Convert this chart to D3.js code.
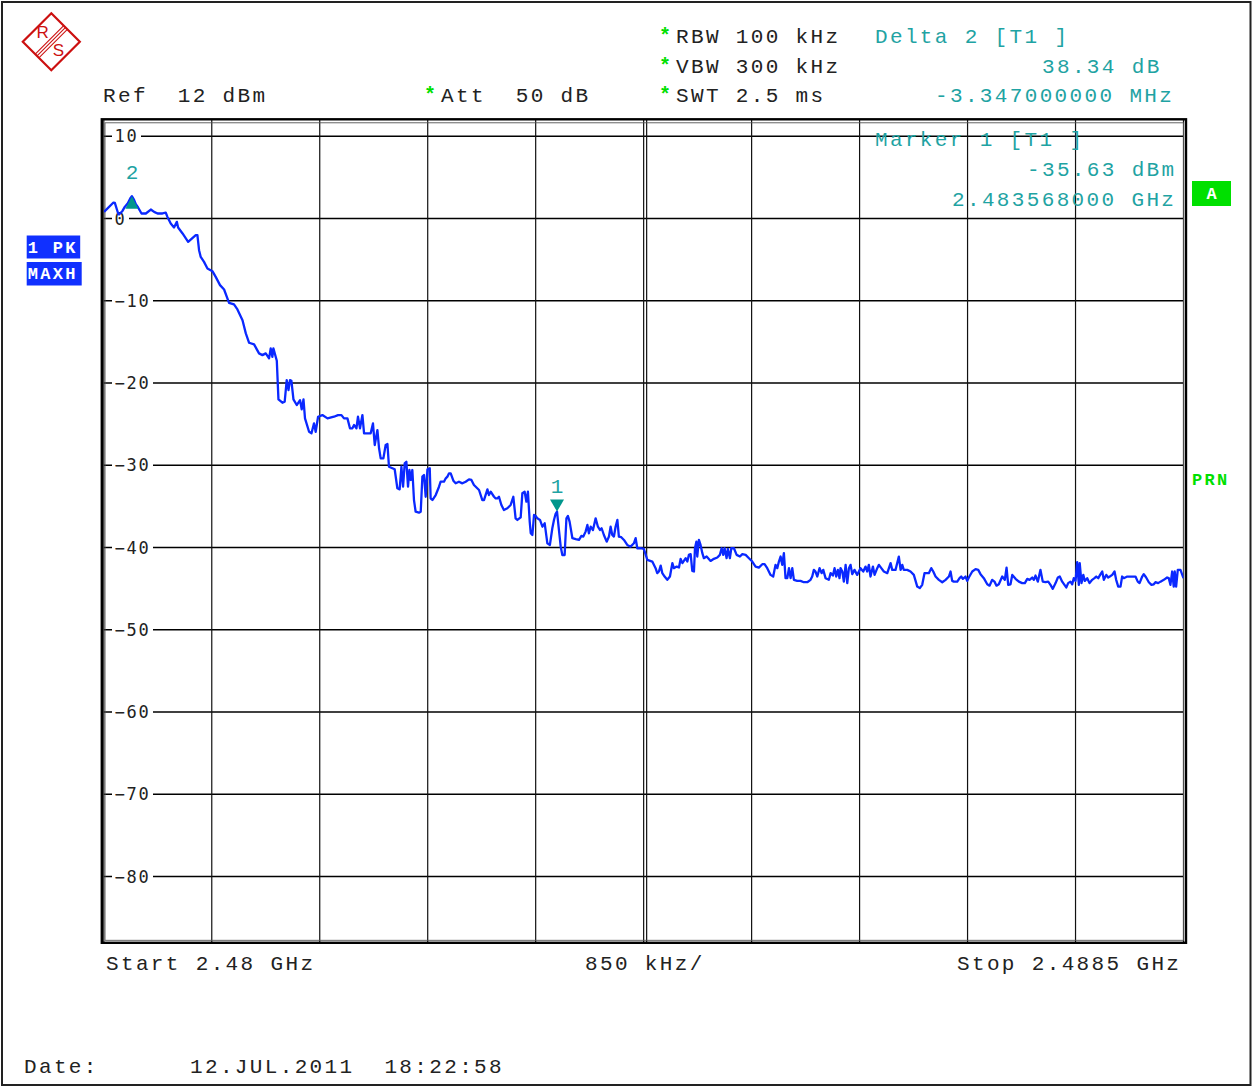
<!DOCTYPE html>
<html>
<head>
<meta charset="utf-8">
<script src="https://cdn.jsdelivr.net/npm/d3@7"></script>
<style>
  html, body { margin: 0; padding: 0; background: #fff; }
  svg { display: block; }
</style>
</head>
<body>
<svg id="chart" width="1253" height="1088"></svg>
<script>
// ---- Sweep settings -------------------------------------------------------
const startGHz = 2.48;
const stopGHz = 2.4885;
const spanKHz = 8500;
const refLevelDbm = 12;
const displayRangeDb = 100;

// grid: level lines (dBm) and frequency divisions (kHz from start)
const levelTicks = [10, 0, -10, -20, -30, -40, -50, -60, -70, -80];
const freqDivsKHz = [0, 850, 1700, 2550, 3400, 4250, 5100, 5950, 6800, 7650, 8500];

// instrument settings shown in the header
const settingNames = ["RBW", "VBW", "SWT"];
const settingValues = ["100 kHz", "300 kHz", "2.5 ms"];

// markers
const marker1 = { freqGHz: 2.483568, levelDbm: -35.63 };
const delta2 = { offsetMHz: -3.347, deltaDb: 38.34 };

// ---- Trace 1 (max hold, peak detector): frequency offset (kHz) / level (dBm)
const traceFreqKHz = [
  2, 76, 87, 113, 120, 147, 165, 189, 209, 221, 236, 252, 270, 297, 331, 370, 396, 423, 462, 488,
  501, 527, 553, 575, 585, 620, 664, 724, 737, 750, 763, 789, 816, 855, 881, 915, 947, 986, 1025, 1052,
  1092, 1118, 1144, 1183, 1222, 1249, 1275, 1301, 1314, 1327, 1335, 1362, 1375, 1406, 1424, 1440, 1454, 1466, 1477, 1493,
  1519, 1545, 1558, 1572, 1584, 1616, 1635, 1655, 1668, 1687, 1721, 1761, 1812, 1844, 1871, 1891, 1918, 1938, 1957, 1970,
  1989, 2001, 2017, 2036, 2049, 2075, 2101, 2119, 2133, 2154, 2167, 2180, 2201, 2219, 2233, 2245, 2272, 2290, 2311, 2329,
  2343, 2356, 2369, 2382, 2395, 2406, 2416, 2429, 2442, 2455, 2481, 2495, 2508, 2521, 2534, 2548, 2566, 2573, 2587, 2613,
  2639, 2652, 2678, 2692, 2705, 2718, 2731, 2752, 2770, 2796, 2823, 2849, 2875, 2894, 2914, 2954, 2980, 2993, 3020, 3032,
  3046, 3072, 3085, 3098, 3111, 3130, 3150, 3177, 3203, 3224, 3242, 3256, 3282, 3295, 3313, 3327, 3339, 3353, 3361, 3374,
  3387, 3400, 3413, 3434, 3453, 3471, 3492, 3512, 3531, 3544, 3557, 3568, 3583, 3597, 3610, 3628, 3642, 3654, 3667, 3689,
  3715, 3741, 3760, 3775, 3793, 3807, 3819, 3833, 3851, 3872, 3890, 3906, 3919, 3937, 3959, 3977, 3990, 4003, 4016, 4029,
  4043, 4055, 4074, 4095, 4121, 4147, 4173, 4187, 4200, 4226, 4252, 4279, 4318, 4344, 4357, 4370, 4384, 4397, 4415, 4436,
  4457, 4476, 4488, 4510, 4528, 4541, 4555, 4581, 4594, 4606, 4620, 4633, 4646, 4654, 4665, 4672, 4685, 4698, 4712, 4724,
  4746, 4777, 4803, 4830, 4850, 4864, 4877, 4887, 4903, 4913, 4929, 4940, 4961, 4982, 5008, 5027, 5053, 5079, 5105, 5131,
  5157, 5184, 5202, 5223, 5249, 5270, 5288, 5302, 5315, 5328, 5341, 5354, 5367, 5381, 5394, 5407, 5420, 5433, 5459, 5485,
  5511, 5538, 5564, 5577, 5590, 5603, 5617, 5635, 5651, 5664, 5682, 5708, 5722, 5740, 5753, 5766, 5779, 5792, 5800, 5814,
  5826, 5840, 5853, 5866, 5879, 5892, 5910, 5931, 5957, 5979, 5997, 6010, 6023, 6036, 6055, 6068, 6089, 6102, 6121, 6141,
  6168, 6194, 6207, 6233, 6259, 6273, 6286, 6298, 6325, 6351, 6377, 6404, 6424, 6443, 6461, 6495, 6514, 6530, 6548, 6574,
  6601, 6627, 6653, 6666, 6679, 6692, 6719, 6737, 6750, 6763, 6784, 6797, 6810, 6837, 6863, 6884, 6902, 6928, 6955, 6973,
  6994, 7012, 7028, 7046, 7073, 7093, 7107, 7120, 7138, 7152, 7178, 7204, 7230, 7251, 7270, 7288, 7309, 7322, 7335, 7353,
  7374, 7392, 7414, 7435, 7453, 7471, 7493, 7511, 7526, 7545, 7563, 7577, 7592, 7610, 7624, 7636, 7650, 7663, 7676, 7683,
  7697, 7711, 7723, 7742, 7760, 7781, 7799, 7813, 7829, 7847, 7860, 7873, 7892, 7907, 7920, 7939, 7957, 7970, 7986, 8004,
  8017, 8030, 8057, 8096, 8122, 8140, 8154, 8175, 8187, 8206, 8227, 8248, 8266, 8279, 8300, 8319, 8345, 8371, 8384, 8397,
  8411, 8423, 8431, 8442, 8455, 8476, 8500
];
const traceLevelDbm = [
  0.80, 1.94, 1.90, 0.61, 0.49, 0.92, 1.41, 1.86, 2.47, 2.71, 2.34, 1.74, 1.34, 0.61, 0.61, 1.09, 0.80, 0.61, 0.61, 0.70,
  0.19, -0.61, -1.09, -0.41, -1.09, -1.82, -2.84, -2.03, -2.03, -3.85, -4.67, -5.27, -6.07, -6.40, -7.10, -8.10, -8.63, -10.25, -10.45, -11.06,
  -12.36, -13.97, -15.11, -15.31, -16.40, -16.61, -16.40, -17.01, -15.79, -16.82, -15.79, -17.30, -21.99, -22.40, -22.28, -19.65, -20.86, -19.65, -19.73, -21.99,
  -22.68, -22.08, -23.21, -21.99, -24.30, -25.93, -26.12, -24.91, -25.93, -24.10, -23.90, -24.30, -24.10, -23.90, -23.90, -24.30, -24.30, -25.51, -25.51, -25.11,
  -25.51, -24.10, -25.51, -23.90, -26.12, -26.12, -26.12, -24.91, -27.54, -25.72, -27.94, -29.16, -29.16, -27.54, -27.42, -30.18, -30.37, -30.49, -32.80, -32.93,
  -30.18, -32.61, -29.77, -29.57, -32.61, -30.58, -31.79, -30.58, -34.23, -35.65, -35.77, -35.65, -31.39, -31.19, -33.83, -30.49, -30.37, -34.02, -34.23, -33.62,
  -32.61, -32.00, -32.00, -31.59, -31.39, -30.98, -30.98, -31.88, -32.20, -32.00, -32.20, -32.00, -31.71, -31.79, -32.40, -33.01, -34.23, -34.23, -32.93, -33.62,
  -33.22, -33.83, -34.02, -34.02, -33.83, -34.83, -35.44, -35.23, -34.83, -33.83, -36.45, -36.65, -36.33, -33.41, -33.22, -34.43, -33.22, -36.86, -38.27, -38.48,
  -36.05, -36.17, -36.45, -36.65, -37.47, -37.06, -39.49, -39.69, -37.66, -36.65, -35.90, -35.63, -37.87, -39.90, -40.91, -40.91, -36.45, -36.17, -36.86, -38.87,
  -38.99, -39.08, -38.59, -38.67, -38.07, -37.26, -38.27, -37.47, -37.87, -36.45, -37.47, -37.87, -37.66, -38.48, -39.29, -38.67, -37.47, -38.48, -38.67, -37.47,
  -36.65, -38.67, -38.75, -39.08, -39.69, -39.90, -39.49, -38.87, -40.09, -40.09, -40.18, -41.50, -41.71, -42.51, -43.12, -42.92, -42.20, -43.12, -43.53, -43.93,
  -43.53, -41.90, -42.51, -42.32, -42.44, -41.38, -41.90, -41.30, -41.71, -40.90, -40.81, -42.84, -42.92, -40.09, -39.29, -41.10, -39.08, -39.69, -40.69, -41.30,
  -41.10, -41.63, -41.38, -41.22, -40.90, -40.09, -40.90, -40.09, -41.30, -40.18, -41.30, -40.09, -40.09, -40.90, -41.10, -40.81, -40.90, -41.30, -41.71, -42.32,
  -42.44, -42.03, -42.03, -42.51, -43.33, -43.53, -42.11, -42.51, -41.71, -41.10, -42.11, -40.69, -43.73, -43.73, -42.51, -43.73, -42.51, -43.93, -44.06, -44.06,
  -44.22, -44.22, -43.93, -43.53, -42.72, -42.92, -43.53, -42.51, -43.12, -42.72, -43.73, -43.93, -43.12, -43.41, -42.51, -43.53, -42.72, -43.73, -42.51, -42.92,
  -44.15, -42.11, -44.33, -42.51, -42.11, -43.24, -42.72, -43.33, -42.51, -42.92, -42.32, -42.92, -42.11, -43.53, -42.32, -43.33, -42.51, -42.11, -42.51, -42.92,
  -43.12, -41.90, -42.72, -42.72, -41.10, -42.72, -42.11, -42.72, -42.72, -42.92, -43.33, -44.75, -44.94, -44.54, -43.12, -43.12, -42.51, -42.92, -43.53, -43.93,
  -44.22, -43.93, -43.53, -42.92, -44.06, -44.15, -44.15, -43.73, -43.53, -43.81, -43.53, -44.06, -43.65, -42.92, -42.63, -42.72, -43.24, -43.73, -44.47, -44.64,
  -43.93, -44.15, -44.64, -44.47, -43.53, -43.93, -42.44, -44.54, -44.47, -43.33, -43.81, -44.15, -44.33, -44.33, -43.81, -43.93, -43.65, -43.93, -43.41, -44.15,
  -42.72, -44.15, -44.22, -44.15, -44.54, -45.03, -44.33, -43.65, -43.53, -44.15, -44.54, -44.86, -44.33, -44.15, -44.47, -43.73, -44.06, -41.78, -44.54, -41.90,
  -44.33, -43.33, -44.06, -43.73, -44.33, -43.93, -43.73, -43.53, -43.73, -43.24, -42.92, -43.93, -43.33, -43.65, -43.53, -43.33, -42.92, -43.93, -44.75, -44.75,
  -43.53, -43.73, -43.53, -43.53, -43.53, -44.15, -44.33, -43.53, -43.24, -43.65, -44.22, -44.54, -44.47, -44.22, -44.33, -44.15, -43.93, -43.65, -43.73, -44.54,
  -42.92, -44.75, -42.92, -44.75, -42.72, -42.72, -43.73
];

// ---- Layout ---------------------------------------------------------------
const plot = { left: 103.8, right: 1183.5, top: 119.8, bottom: 942.3 };
const MONO = '"Liberation Mono", "DejaVu Sans Mono", monospace';
const SANSMONO = '"DejaVu Sans Mono", monospace';
const TEAL = "#1fa3a3";
const MARK = "#00968c";
const GREEN = "#00e000";
const BLUE = "#1030ff";
const TRACE = "#0a28ff";

const svg = d3.select("#chart");

const x = d3.scaleLinear().domain([0, spanKHz]).range([plot.left, plot.right]);
const y = d3.scaleLinear().domain([refLevelDbm - displayRangeDb, refLevelDbm]).range([plot.bottom, plot.top]);

// page border
svg.append("rect")
  .attr("x", 2).attr("y", 2).attr("width", 1248.5).attr("height", 1083)
  .attr("fill", "none").attr("stroke", "#222").attr("stroke-width", 2);

// ---- R&S logo -------------------------------------------------------------
const logo = svg.append("g").attr("transform", "translate(51.3,41.7)");
const R = 28.5;
logo.append("polygon")
  .attr("points", [[0, -R], [R, 0], [0, R], [-R, 0]].map(p => p.join(",")).join(" "))
  .attr("fill", "none").attr("stroke", "#cc1010").attr("stroke-width", 2.2);
[-2.6, 0, 2.6].forEach(s => {
  const o = s / Math.SQRT2;
  logo.append("line")
    .attr("x1", o + R / 2).attr("y1", o - R / 2)
    .attr("x2", o - R / 2).attr("y2", o + R / 2)
    .attr("stroke", "#cc1010").attr("stroke-width", 1.1);
});
logo.append("text").attr("x", -8.6).attr("y", -4.2).attr("text-anchor", "middle")
  .attr("font-family", "Liberation Sans, Arial, sans-serif").attr("font-size", 17)
  .attr("fill", "#cc1010").text("R");
logo.append("text").attr("x", 7).attr("y", 14.5).attr("text-anchor", "middle")
  .attr("font-family", "Liberation Sans, Arial, sans-serif").attr("font-size", 17)
  .attr("fill", "#cc1010").text("S");

// ---- Text helper ----------------------------------------------------------
function monoText(str, tx, ty, color, opts = {}) {
  return svg.append("text")
    .attr("x", tx).attr("y", ty)
    .attr("font-family", MONO)
    .attr("font-size", opts.size || 21)
    .attr("font-weight", opts.weight || "normal")
    .attr("letter-spacing", opts.spacing != null ? opts.spacing : 2.35)
    .attr("fill", color)
    .attr("xml:space", "preserve")
    .style("white-space", "pre")
    .text(str);
}
function star(tx, ty) {
  monoText("*", tx, ty, GREEN, { weight: "bold", spacing: 0, size: 20 });
}

// header
monoText(`Ref  ${refLevelDbm} dBm`, 103, 102, "#222");
star(424, 101);
monoText("Att  50 dB", 441, 102, "#222");
settingNames.forEach((n, i) => {
  const ty = 43 + i * 29.5;
  star(659, ty - 1);
  monoText(`${n} ${settingValues[i]}`, 676, ty, "#222");
});

// delta marker readout
monoText("Delta 2 [T1 ]", 875, 43, TEAL);
monoText(`${delta2.deltaDb.toFixed(2)} dB`, 1042, 72.5, TEAL);
monoText(`${delta2.offsetMHz.toFixed(9)} MHz`, 935, 102, TEAL);

// ---- Grid -----------------------------------------------------------------
const grid = svg.append("g");
grid.selectAll("line.h").data(levelTicks).join("line")
  .attr("x1", plot.left).attr("x2", plot.right)
  .attr("y1", d => y(d)).attr("y2", d => y(d))
  .attr("stroke", "#000").attr("stroke-width", 1.3);
grid.selectAll("line.v").data(freqDivsKHz).join("line")
  .attr("x1", d => x(d)).attr("x2", d => x(d))
  .attr("y1", plot.top).attr("y2", plot.bottom)
  .attr("stroke", "#111").attr("stroke-width", 1.2);
// centre frequency is drawn doubled
grid.append("line")
  .attr("x1", x(spanKHz / 2) + 3).attr("x2", x(spanKHz / 2) + 3)
  .attr("y1", plot.top).attr("y2", plot.bottom)
  .attr("stroke", "#111").attr("stroke-width", 1.2);

// level labels with a white backing that breaks the grid line
const lab = svg.append("g");
levelTicks.forEach(v => {
  const s = v < 0 ? "\u2212" + Math.abs(v) : String(v);
  const w = s.length * 12;
  lab.append("rect")
    .attr("x", 112).attr("y", y(v) - 7).attr("width", w + 5).attr("height", 14)
    .attr("fill", "#fff");
  lab.append("text")
    .attr("x", 114.5).attr("y", y(v) + 6)
    .attr("font-family", SANSMONO).attr("font-size", 17)
    .attr("letter-spacing", 1.8)
    .attr("fill", "#222").text(s);
});

// ---- Frame ----------------------------------------------------------------
svg.append("rect")
  .attr("x", plot.left - 2).attr("y", plot.top - 0.5)
  .attr("width", plot.right - plot.left + 4.5).attr("height", plot.bottom - plot.top + 1)
  .attr("fill", "none").attr("stroke", "#000").attr("stroke-width", 2.4);
svg.append("rect")
  .attr("x", plot.left + 1.2).attr("y", plot.top + 3)
  .attr("width", plot.right - plot.left - 1.2).attr("height", plot.bottom - plot.top - 5)
  .attr("fill", "none").attr("stroke", "#555").attr("stroke-width", 0.9);

// ---- Trace ----------------------------------------------------------------
svg.append("clipPath").attr("id", "plotClip").append("rect")
  .attr("x", plot.left).attr("y", plot.top)
  .attr("width", plot.right - plot.left).attr("height", plot.bottom - plot.top);
const traceData = traceFreqKHz.map((f, i) => [f, traceLevelDbm[i]]);
svg.append("path")
  .datum(traceData)
  .attr("clip-path", "url(#plotClip)")
  .attr("fill", "none").attr("stroke", TRACE).attr("stroke-width", 2.3)
  .attr("stroke-linejoin", "round")
  .attr("d", d3.line().x(d => x(d[0])).y(d => y(d[1])));

// ---- Markers --------------------------------------------------------------
const m1k = (marker1.freqGHz - startGHz) * 1e6;
const m2k = m1k + delta2.offsetMHz * 1e3;
const m2level = marker1.levelDbm + delta2.deltaDb;

const mx1 = x(m1k), my1 = y(marker1.levelDbm);
svg.append("path")
  .attr("d", `M${mx1 - 7},${my1 - 12} L${mx1 + 7},${my1 - 12} L${mx1},${my1} Z`)
  .attr("fill", MARK);
monoText("1", mx1 - 6.3, my1 - 18.5, TEAL, { spacing: 0 });

const mx2 = x(m2k), my2 = y(m2level);
svg.append("path")
  .attr("d", `M${mx2},${my2} L${mx2 + 6.5},${my2 + 12.5} L${mx2 - 6.5},${my2 + 12.5} Z`)
  .attr("fill", MARK);
monoText("2", mx2 - 6, my2 - 17.5, TEAL, { spacing: 0 });

// marker 1 readout inside the diagram
monoText(`Marker 1 [T1 ]`, 875, 145.5, TEAL);
monoText(`${marker1.levelDbm.toFixed(2)} dBm`, 1027, 175.5, TEAL);
monoText(`${marker1.freqGHz.toFixed(9)} GHz`, 952, 206, TEAL);

// ---- Side annotations -----------------------------------------------------
function tag(str, tx, ty, w, h, fill) {
  svg.append("rect").attr("x", tx).attr("y", ty).attr("width", w).attr("height", h).attr("fill", fill);
  svg.append("text")
    .attr("x", tx + 1).attr("y", ty + h / 2 + 5.5)
    .attr("font-family", MONO).attr("font-size", 17).attr("font-weight", "bold")
    .attr("letter-spacing", 2.3).attr("fill", "#fff")
    .attr("xml:space", "preserve").style("white-space", "pre")
    .text(str);
}
tag("1 PK", 26.7, 235.5, 53.5, 23, BLUE);
tag("MAXH", 26.7, 262, 55, 23.5, BLUE);

svg.append("rect").attr("x", 1192).attr("y", 181).attr("width", 39).attr("height", 25).attr("fill", GREEN);
svg.append("text").attr("x", 1211.5).attr("y", 199).attr("text-anchor", "middle")
  .attr("font-family", MONO).attr("font-size", 17).attr("font-weight", "bold")
  .attr("fill", "#fff").text("A");
svg.append("text").attr("x", 1192).attr("y", 484.5)
  .attr("font-family", MONO).attr("font-size", 17).attr("font-weight", "bold")
  .attr("letter-spacing", 2.3).attr("fill", GREEN).text("PRN");

// ---- Footer ---------------------------------------------------------------
monoText(`Start ${startGHz} GHz`, 106, 970, "#222");
monoText(`${spanKHz / 10} kHz/`, 585, 970, "#222");
monoText(`Stop ${stopGHz} GHz`, 957, 970, "#222");
monoText("Date:", 24, 1073, "#222");
monoText("12.JUL.2011  18:22:58", 190, 1073, "#222");
</script>
</body>
</html>
